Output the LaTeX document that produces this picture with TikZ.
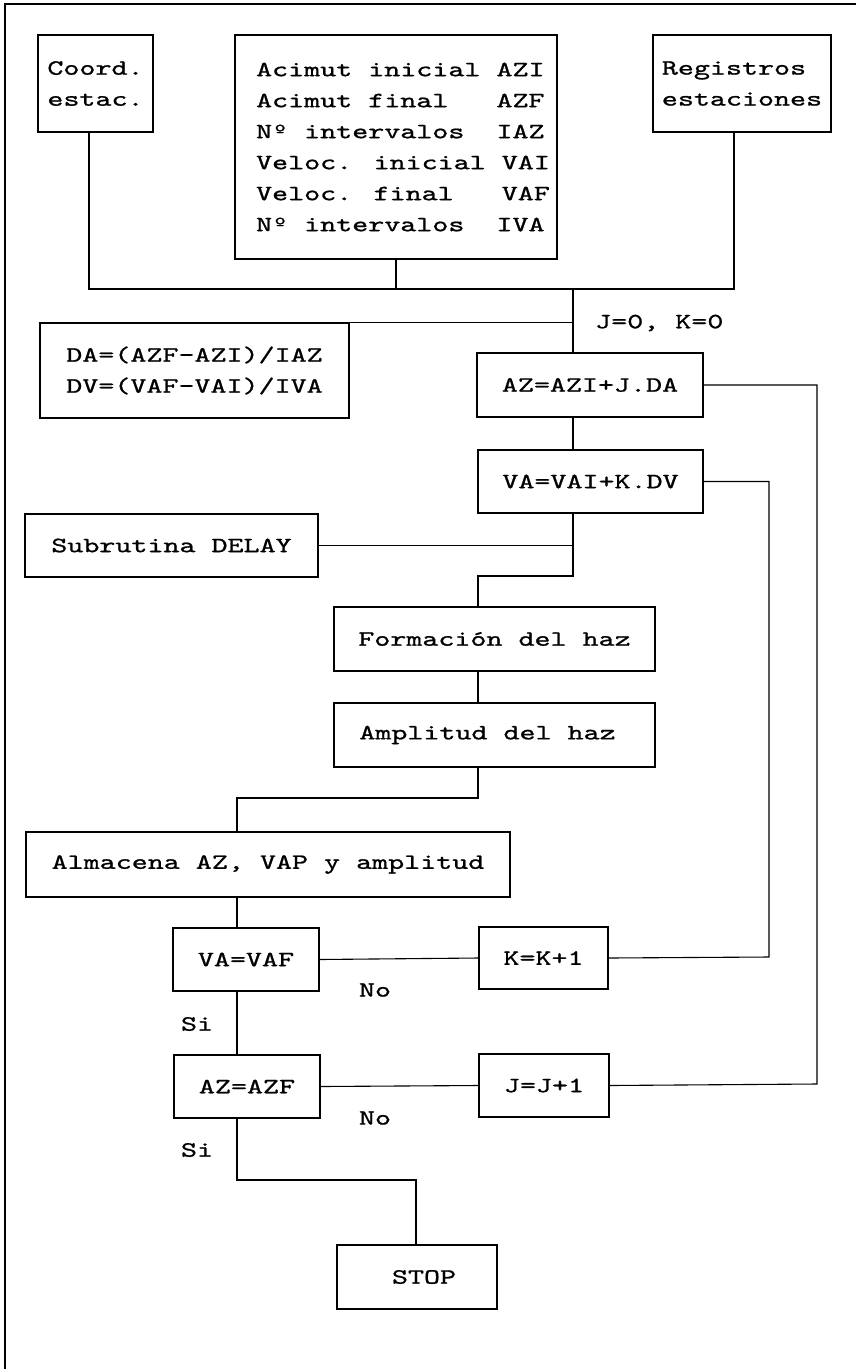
\documentclass[tikz,border=0pt]{standalone}
\usepackage{fontspec}
\newfontfamily\tw{lmmono10-regular.otf}[FakeStretch=1.40,FakeBold=1]
\begin{document}
\begin{tikzpicture}[x=1pt,y=-1pt,
  box/.style={draw,line width=1.1pt,inner sep=0pt,font=\tw\fontsize{21.8}{31}\selectfont},
  lbl/.style={inner sep=0pt,font=\tw\fontsize{21.8}{31}\selectfont},
  wire/.style={line width=1.1pt}]
\useasboundingbox (0,0) rectangle (856,1369);
\fill[white] (0,0) rectangle (856,1369);
\draw[wire] (5,1369) -- (5,4) -- (856,4);
% boxes
\node[box,minimum width=115pt,minimum height=97pt,align=left] (coord) at (95.5,83.5) {Coord.\\estac.};
\node[box,minimum width=322pt,minimum height=224pt,align=left] (central) at (396,147)
 {\hspace*{14pt}Acimut inicial AZI\\
  \hspace*{14pt}Acimut final\ \ \ AZF\\
  \hspace*{14pt}Nº intervalos\ \ IAZ\\
  \hspace*{14pt}Veloc. inicial VAI\\
  \hspace*{14pt}Veloc. final\ \ \ VAF\\
  \hspace*{14pt}Nº intervalos\ \ IVA};
\node[box,minimum width=178pt,minimum height=97pt,align=left] (reg) at (742,83.5) {Registros\\estaciones};
\node[box,minimum width=309pt,minimum height=95pt,align=left] (da) at (194.5,370.5) {DA=(AZF-AZI)/IAZ\\DV=(VAF-VAI)/IVA};
\node[box,minimum width=226pt,minimum height=64pt] (az) at (590,385) {AZ=AZI+J.DA};
\node[box,minimum width=225pt,minimum height=63pt] (va) at (590.5,481.5) {VA=VAI+K.DV};
\node[box,minimum width=293pt,minimum height=63pt] (delay) at (171.5,545.5) {Subrutina DELAY};
\node[box,minimum width=321pt,minimum height=64pt] (form) at (494.5,639) {Formación del haz};
\node[box,minimum width=321pt,minimum height=64pt] (ampl) at (494.5,735) {Amplitud del haz\hspace*{14pt}};
\node[box,minimum width=484pt,minimum height=65pt] (alm) at (268,864.5) {Almacena AZ, VAP y amplitud};
\node[box,minimum width=146pt,minimum height=63pt] (vavaf) at (246,959.5) {VA=VAF};
\node[box,minimum width=129pt,minimum height=62pt] (kk) at (543.5,958) {K=K+1};
\node[box,minimum width=146pt,minimum height=63pt] (azazf) at (247,1086.5) {AZ=AZF};
\node[box,minimum width=130pt,minimum height=63pt] (jj) at (544,1085.5) {J=J+1};
\node[box,minimum width=160pt,minimum height=64pt] (stop) at (417,1277) {\hspace*{14pt}STOP};
% labels
\node[lbl,anchor=west] (j0) at (595,323) {J=0, K=0};
\node[lbl] (no1) at (375,990) {No};
\node[lbl] (si1) at (197,1024) {Si};
\node[lbl] (no2) at (375,1118) {No};
\node[lbl] (si2) at (197,1150) {Si};
% junction coordinates
\coordinate (bL) at (89,289);
\coordinate (bR) at (734,289);
\coordinate (tr) at (573,289);
\coordinate (d1) at (573,576);
\coordinate (d2) at (478,576);
\coordinate (a1) at (478,798);
\coordinate (a2) at (237,798);
\coordinate (kR) at (769,957);
\coordinate (jR) at (817,1084);
\coordinate (s1) at (237,1180);
\coordinate (s2) at (416,1180);
% connectors
\draw[wire] (coord.south -| bL) -- (bL) -- (bR) -- (reg.south -| bR);
\draw[wire] (central.south) -- (central.south |- bL);
\draw[wire] (tr) -- (az.north -| tr);
\draw[wire] (da.north east) -- (da.north east -| tr);
\draw[wire] (az.south -| tr) -- (va.north -| tr);
\draw[wire] (va.south -| tr) -- (d1) -- (d2) -- (form.north -| d2);
\draw[wire] (delay.east) -- (delay.east -| tr);
\draw[wire] (form.south -| d2) -- (ampl.north -| d2);
\draw[wire] (ampl.south -| a1) -- (a1) -- (a2) -- (alm.north -| a2);
\draw[wire] (alm.south -| a2) -- (vavaf.north -| a2);
\draw[wire] (vavaf.east) -- (kk.west);
\draw[wire] (kk.east) -- (kR) -- (va.east -| kR) -- (va.east);
\draw[wire] (vavaf.south -| a2) -- (azazf.north -| a2);
\draw[wire] (azazf.east) -- (jj.west);
\draw[wire] (jj.east) -- (jR) -- (az.east -| jR) -- (az.east);
\draw[wire] (azazf.south -| s1) -- (s1) -- (s2) -- (stop.north -| s2);
\end{tikzpicture}
\end{document}
